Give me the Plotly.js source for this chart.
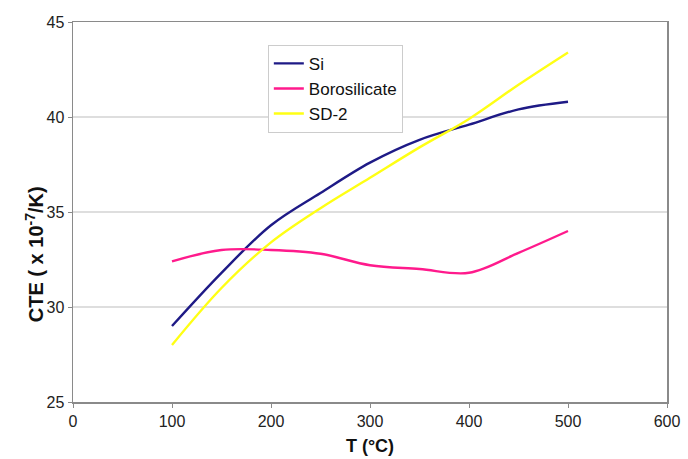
<!DOCTYPE html>
<html>
<head>
<meta charset="utf-8">
<script src="https://cdn.plot.ly/plotly-3.0.1.min.js"></script>
<style>html,body{margin:0;padding:0;background:#fff;}#chart{width:688px;height:459px;}</style>
</head>
<body>
<div id="chart"></div>
<script>
const temps = [100, 150, 200, 250, 300, 350, 400, 450, 500];
const si = [29.0, 31.8, 34.3, 36.0, 37.6, 38.8, 39.6, 40.4, 40.8];
const borosilicate = [32.4, 33.0, 33.0, 32.8, 32.2, 32.0, 31.8, 32.85, 34.0];
const sd2 = [28.0, 31.0, 33.4, 35.2, 36.8, 38.4, 39.9, 41.7, 43.4];
const xTicks = [0, 100, 200, 300, 400, 500, 600];
const yTicks = [25, 30, 35, 40, 45];

const font = "Liberation Sans, Arial, sans-serif";
const mk = (name, y, color) => ({
  x: temps, y: y, name: name, type: 'scatter', mode: 'lines',
  line: {color: color, width: 2.4, shape: 'spline', smoothing: 1}
});
const data = [
  mk('Si', si, '#1e1a86'),
  mk('Borosilicate', borosilicate, '#ff1a8c'),
  mk('SD-2', sd2, '#ffff14')
];
const layout = {
  width: 688, height: 459,
  margin: {l: 73, r: 21, t: 22, b: 57},
  paper_bgcolor: '#fff', plot_bgcolor: '#fff',
  font: {family: font, size: 16, color: '#222'},
  showlegend: true,
  legend: {
    x: 0.328, y: 0.94, xanchor: 'left', yanchor: 'top',
    bordercolor: '#cccccc', borderwidth: 1, bgcolor: '#fff',
    font: {family: font, size: 17, color: '#111'},
    itemwidth: 30, tracegroupgap: 0
  },
  xaxis: {
    range: [0, 600], tickvals: xTicks, ticktext: xTicks.map(String),
    showgrid: false, zeroline: false,
    showline: true, linecolor: '#8a8a8a', linewidth: 1.5, mirror: true,
    ticks: 'outside', ticklen: 4, tickcolor: '#8a8a8a',
    tickfont: {family: font, size: 16, color: '#222'},
    title: {text: '<b>T (°C)</b>', font: {family: font, size: 18, color: '#111'}, standoff: 10}
  },
  yaxis: {
    range: [25, 45], tickvals: yTicks, ticktext: yTicks.map(String),
    showgrid: true, gridcolor: '#dedede', gridwidth: 1.2, zeroline: false,
    showline: true, linecolor: '#8a8a8a', linewidth: 1.5, mirror: true,
    ticks: 'outside', ticklen: 4, tickcolor: '#8a8a8a',
    tickfont: {family: font, size: 16, color: '#222'}
  },
  annotations: [{
    text: '<b>CTE ( x 10<sup>-7</sup>/K)</b>', textangle: -90,
    xref: 'paper', yref: 'paper', x: -0.065, y: 0.39,
    xanchor: 'center', yanchor: 'middle', showarrow: false,
    font: {family: font, size: 20, color: '#111'}
  }]
};
Plotly.newPlot('chart', data, layout, {displayModeBar: false, staticPlot: true});
</script>
</body>
</html>
